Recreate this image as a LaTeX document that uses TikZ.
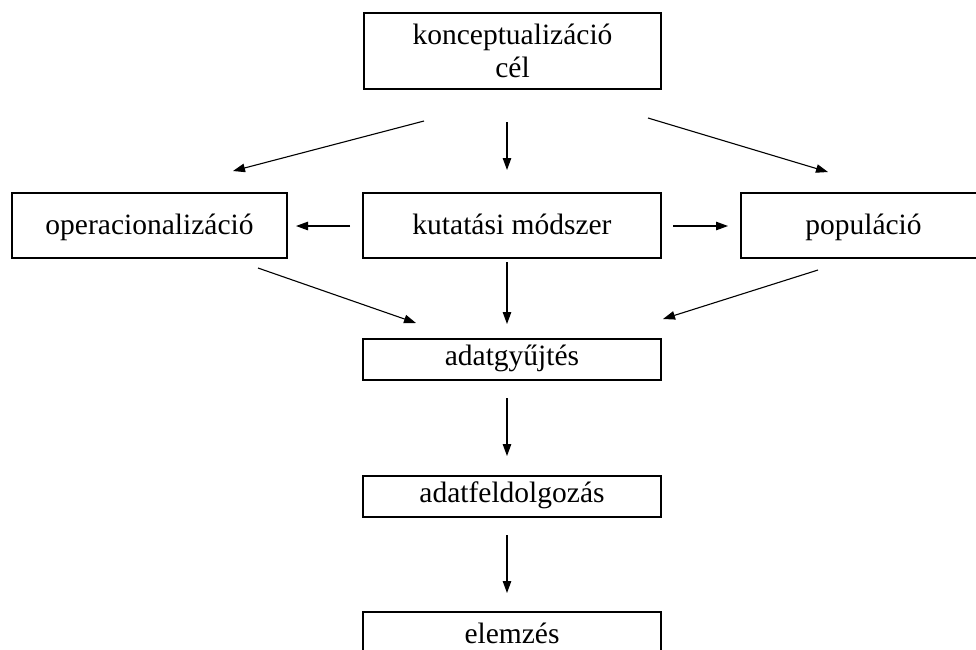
\documentclass[tikz,border=0pt]{standalone}
\usepackage{fontspec}
\setmainfont{Liberation Serif}
\usetikzlibrary{arrows.meta}
\begin{document}
\begin{tikzpicture}[x=1pt,y=-1pt,
  box/.style={draw,line width=1.5pt,inner sep=0pt,align=center,font=\fontsize{29.5}{33}\selectfont},
  bigbox/.style={box,text height=24.4pt,text depth=7.4pt},
  smallbox/.style={box,text height=19.4pt,text depth=7.4pt},
  lowbox/.style={box,text height=28.4pt,text depth=7.4pt},
  arr/.style={line width=1.1pt,-{Triangle[length=12pt,width=8.5pt]}}]
\useasboundingbox (0,0) rectangle (976,649);
\clip (0,0) rectangle (976,649);
\node[box,minimum width=297pt,minimum height=76pt] (top) at (512.5,51) {konceptualizáció\\cél};
\node[bigbox,minimum width=298pt,minimum height=65pt] (kut) at (512,225.5) {kutatási módszer};
\node[bigbox,minimum width=275pt,minimum height=65pt] (oper) at (149.5,225.5) {operacionalizáció};
\node[bigbox,minimum width=245pt,minimum height=65pt] (pop) at (863.5,225.5) {populáció};
\node[smallbox,minimum width=298pt,minimum height=41pt] (gyujt) at (512,359.5) {adatgyűjtés};
\node[smallbox,minimum width=298pt,minimum height=41pt] (feld) at (512,496.5) {adatfeldolgozás};
\node[lowbox,minimum width=298pt,minimum height=41pt] (elem) at (512,632.5) {elemzés};
% arrow end points
\coordinate (a1s) at (424,121); \coordinate (a1e) at (233,171);
\coordinate (a2s) at (507,122); \coordinate (a2e) at (507,170);
\coordinate (a3s) at (648,118); \coordinate (a3e) at (828,172);
\coordinate (a4s) at (350,226); \coordinate (a4e) at (296,226);
\coordinate (a5s) at (673,226); \coordinate (a5e) at (728,226);
\coordinate (a6s) at (258,268); \coordinate (a6e) at (416,323);
\coordinate (a7s) at (507,262); \coordinate (a7e) at (507,324);
\coordinate (a8s) at (818,270); \coordinate (a8e) at (663,319);
\coordinate (a9s) at (507,398); \coordinate (a9e) at (507,456);
\coordinate (a10s) at (507,535); \coordinate (a10e) at (507,593);
\draw[arr] (a1s) -- (a1e);
\draw[arr] (a2s) -- (a2e);
\draw[arr] (a3s) -- (a3e);
\draw[arr] (a4s) -- (a4e);
\draw[arr] (a5s) -- (a5e);
\draw[arr] (a6s) -- (a6e);
\draw[arr] (a7s) -- (a7e);
\draw[arr] (a8s) -- (a8e);
\draw[arr] (a9s) -- (a9e);
\draw[arr] (a10s) -- (a10e);
\end{tikzpicture}
\end{document}
